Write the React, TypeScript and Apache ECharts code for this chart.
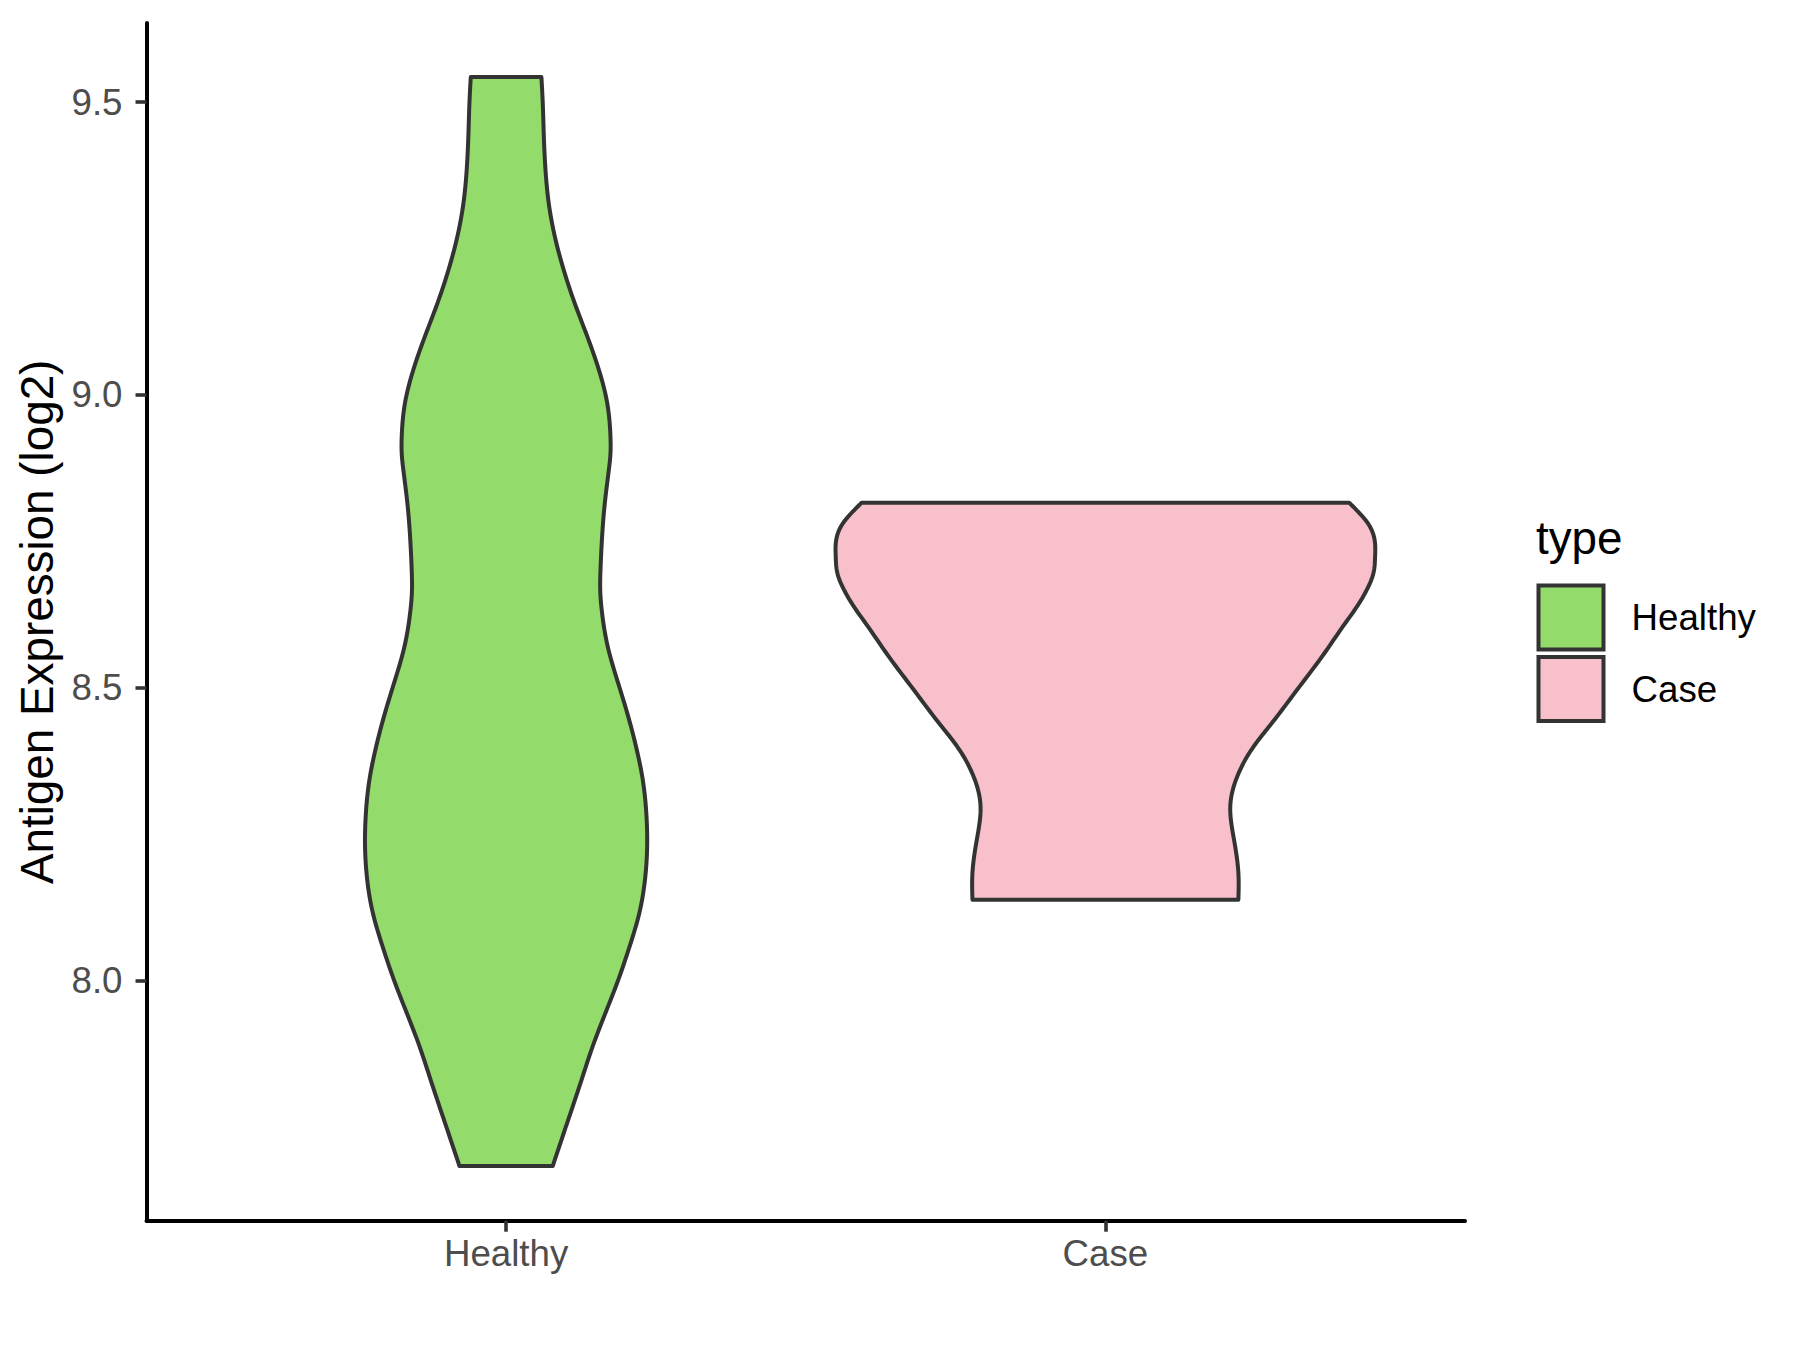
import React, { useEffect, useRef } from "react";
import * as echarts from "echarts";

// ---- data ----
const categories = ["Healthy", "Case"];
const fillColors = ["#93DB6B", "#F7C0CB"];
const yTicks = [8.0, 8.5, 9.0, 9.5];

// violin outline: expression value (top -> bottom) and scaled density (max = 1)
const healthyY = [9.543, 9.498, 9.441, 9.385, 9.328, 9.27, 9.213, 9.156, 9.1, 9.043, 8.986, 8.929, 8.9, 8.872, 8.815, 8.758, 8.701, 8.667, 8.627, 8.57, 8.513, 8.457, 8.399, 8.342, 8.285, 8.228, 8.172, 8.115, 8.058, 8.001, 7.944, 7.886, 7.829, 7.745, 7.683];
const healthyDensity = [0.131, 0.136, 0.14, 0.146, 0.158, 0.181, 0.214, 0.255, 0.301, 0.344, 0.375, 0.387, 0.387, 0.381, 0.366, 0.356, 0.35, 0.349, 0.356, 0.377, 0.412, 0.449, 0.482, 0.507, 0.52, 0.523, 0.515, 0.494, 0.458, 0.416, 0.368, 0.32, 0.279, 0.218, 0.173];
const caseY = [8.816, 8.803, 8.781, 8.753, 8.724, 8.696, 8.667, 8.638, 8.61, 8.553, 8.496, 8.44, 8.411, 8.382, 8.354, 8.325, 8.297, 8.268, 8.24, 8.211, 8.184, 8.155, 8.138];
const caseDensity = [0.904, 0.932, 0.973, 0.998, 1.0, 0.994, 0.969, 0.932, 0.889, 0.803, 0.71, 0.618, 0.568, 0.525, 0.494, 0.472, 0.463, 0.467, 0.477, 0.487, 0.493, 0.494, 0.493];

const groupsY = [healthyY, caseY];
const groupsDensity = [healthyDensity, caseDensity];

const HALF_WIDTH = 0.45;
const FONT = "'Liberation Sans', Arial, Helvetica, sans-serif";

// natural cubic spline through (t[i], v[i]) sampled densely (rendering only)
function splineSample(t: number[], v: number[], sub = 8): number[][] {
  const n = t.length;
  if (n < 3) return t.map((ti, i) => [ti, v[i]]);
  const h: number[] = [];
  for (let i = 0; i < n - 1; i++) h.push(t[i + 1] - t[i]);
  const l = new Array(n).fill(1);
  const mu = new Array(n).fill(0);
  const z = new Array(n).fill(0);
  for (let i = 1; i < n - 1; i++) {
    const alpha = (3 / h[i]) * (v[i + 1] - v[i]) - (3 / h[i - 1]) * (v[i] - v[i - 1]);
    l[i] = 2 * (t[i + 1] - t[i - 1]) - h[i - 1] * mu[i - 1];
    mu[i] = h[i] / l[i];
    z[i] = (alpha - h[i - 1] * z[i - 1]) / l[i];
  }
  const c = new Array(n).fill(0);
  const b = new Array(n).fill(0);
  const d = new Array(n).fill(0);
  for (let j = n - 2; j >= 0; j--) {
    c[j] = z[j] - mu[j] * c[j + 1];
    b[j] = (v[j + 1] - v[j]) / h[j] - (h[j] * (c[j + 1] + 2 * c[j])) / 3;
    d[j] = (c[j + 1] - c[j]) / (3 * h[j]);
  }
  const out: number[][] = [];
  for (let j = 0; j < n - 1; j++) {
    for (let s = 0; s < sub; s++) {
      const dt = (h[j] * s) / sub;
      out.push([t[j] + dt, v[j] + b[j] * dt + c[j] * dt * dt + d[j] * dt * dt * dt]);
    }
  }
  out.push([t[n - 1], v[n - 1]]);
  return out;
}

export default function App() {
  const ref = useRef<HTMLDivElement>(null);

  useEffect(() => {
    if (!ref.current) return;
    const chart = echarts.init(ref.current, null, { renderer: "svg" });

    const series = categories.map((name, gi) => ({
      type: "custom",
      name,
      clip: false,
      data: [[gi + 1, groupsY[gi][0]]],
      renderItem: (params: any, api: any) => {
        const center = gi + 1;
        const ys = groupsY[gi];
        const ds = groupsDensity[gi];
        const cx = api.coord([center, ys[0]])[0];
        const py = ys.map((y) => api.coord([center, y])[1]);
        const hw = ys.map((y, i) => api.coord([center + ds[i] * HALF_WIDTH, y])[0] - cx);
        const smooth = splineSample(py, hw);
        const right = smooth.map(([yy, w]) => [cx + w, yy]);
        const left = smooth.map(([yy, w]) => [cx - w, yy]).reverse();
        return {
          type: "polygon",
          shape: { points: right.concat(left) },
          style: { fill: fillColors[gi], stroke: "#333333", lineWidth: 4, lineJoin: "round" },
        };
      },
    }));

    const legendItems: any[] = [
      {
        type: "text",
        x: 1536,
        y: 538,
        style: { text: "type", fontSize: 45.8, fontFamily: FONT, fill: "#000000", verticalAlign: "middle", align: "left" },
      },
    ];
    categories.forEach((name, i) => {
      const y0 = 585.5 + i * 71.5;
      legendItems.push({
        type: "rect",
        shape: { x: 1538.5, y: y0, width: 65, height: 64 },
        style: { fill: fillColors[i], stroke: "#333333", lineWidth: 4 },
      });
      legendItems.push({
        type: "text",
        x: 1631.5,
        y: y0 + 32,
        style: { text: name, fontSize: 36.7, fontFamily: FONT, fill: "#000000", verticalAlign: "middle", align: "left" },
      });
    });

    chart.setOption({
      animation: false,
      backgroundColor: "#FFFFFF",
      grid: { left: 146.5, top: 23, width: 1318.5, height: 1197.7, containLabel: false, outerBoundsMode: "none" },
      xAxis: {
        type: "value",
        min: 0.4,
        max: 2.6,
        splitLine: { show: false },
        axisLine: { show: true, onZero: false, lineStyle: { color: "#000000", width: 4 } },
        axisTick: { show: true, customValues: [1, 2], length: 11, lineStyle: { color: "#333333", width: 3.6 } },
        axisLabel: {
          customValues: [1, 2],
          formatter: (v: number) => categories[Math.round(v) - 1] ?? "",
          fontSize: 36.7,
          fontFamily: FONT,
          color: "#4D4D4D",
          margin: 14,
        },
      },
      yAxis: {
        type: "value",
        min: 7.5896,
        max: 9.6353,
        name: "Antigen Expression (log2)",
        nameLocation: "middle",
        nameGap: 80,
        nameTextStyle: { fontSize: 45.8, fontFamily: FONT, color: "#000000" },
        splitLine: { show: false },
        axisLine: { show: true, onZero: false, lineStyle: { color: "#000000", width: 4 } },
        axisTick: { show: true, customValues: yTicks, length: 11, lineStyle: { color: "#333333", width: 3.6 } },
        axisLabel: {
          customValues: yTicks,
          formatter: (v: number) => v.toFixed(1),
          fontSize: 36.7,
          fontFamily: FONT,
          color: "#4D4D4D",
          margin: 24,
        },
      },
      graphic: legendItems,
      series,
    } as any);

    return () => chart.dispose();
  }, []);

  return (
    <div
      ref={ref}
      style={{ position: "absolute", left: 0, top: 0, width: 1800, height: 1350, background: "#FFFFFF" }}
    />
  );
}
